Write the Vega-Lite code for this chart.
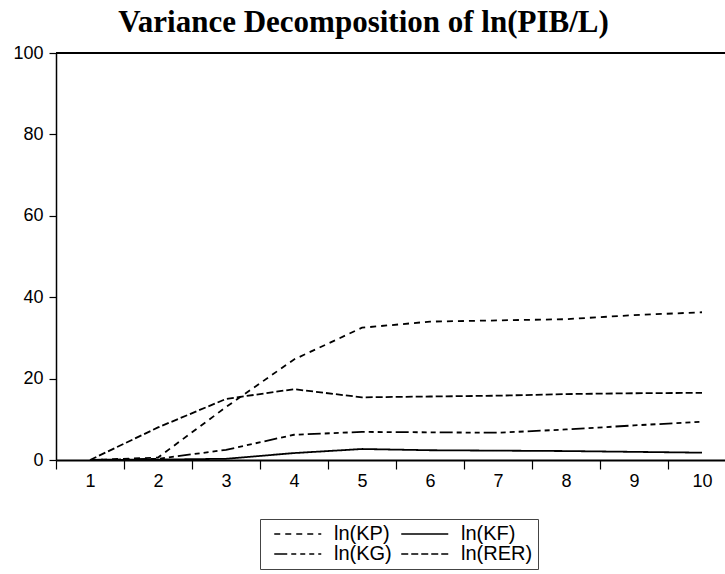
{
  "$schema": "https://vega.github.io/schema/vega-lite/v6.json",
  "width": 669,
  "height": 407,
  "autosize": {"type": "none"},
  "padding": {"left": 56, "top": 53, "right": 0, "bottom": 114},
  "title": {
    "text": "Variance Decomposition of ln(PIB/L)",
    "font": "Liberation Serif",
    "fontSize": 31,
    "fontWeight": "bold",
    "color": "black",
    "anchor": "middle",
    "dx": -27,
    "offset": 5
  },
  "config": {"view": {"stroke": null}},
  "data": {
    "values": [
      {"period": 1, "series": "ln(KP)", "value": 0},
      {"period": 2, "series": "ln(KP)", "value": 0.6},
      {"period": 3, "series": "ln(KP)", "value": 13},
      {"period": 4, "series": "ln(KP)", "value": 24.7},
      {"period": 5, "series": "ln(KP)", "value": 32.5},
      {"period": 6, "series": "ln(KP)", "value": 34},
      {"period": 7, "series": "ln(KP)", "value": 34.3},
      {"period": 8, "series": "ln(KP)", "value": 34.6},
      {"period": 9, "series": "ln(KP)", "value": 35.6},
      {"period": 10, "series": "ln(KP)", "value": 36.3},
      {"period": 1, "series": "ln(KF)", "value": 0},
      {"period": 2, "series": "ln(KF)", "value": 0.1},
      {"period": 3, "series": "ln(KF)", "value": 0.3},
      {"period": 4, "series": "ln(KF)", "value": 1.7},
      {"period": 5, "series": "ln(KF)", "value": 2.7},
      {"period": 6, "series": "ln(KF)", "value": 2.4},
      {"period": 7, "series": "ln(KF)", "value": 2.3},
      {"period": 8, "series": "ln(KF)", "value": 2.2},
      {"period": 9, "series": "ln(KF)", "value": 2.0},
      {"period": 10, "series": "ln(KF)", "value": 1.8},
      {"period": 1, "series": "ln(KG)", "value": 0},
      {"period": 2, "series": "ln(KG)", "value": 0.3},
      {"period": 3, "series": "ln(KG)", "value": 2.5},
      {"period": 4, "series": "ln(KG)", "value": 6.2},
      {"period": 5, "series": "ln(KG)", "value": 6.9},
      {"period": 6, "series": "ln(KG)", "value": 6.8},
      {"period": 7, "series": "ln(KG)", "value": 6.7},
      {"period": 8, "series": "ln(KG)", "value": 7.5},
      {"period": 9, "series": "ln(KG)", "value": 8.5},
      {"period": 10, "series": "ln(KG)", "value": 9.4},
      {"period": 1, "series": "ln(RER)", "value": 0},
      {"period": 2, "series": "ln(RER)", "value": 8},
      {"period": 3, "series": "ln(RER)", "value": 15},
      {"period": 4, "series": "ln(RER)", "value": 17.4},
      {"period": 5, "series": "ln(RER)", "value": 15.4},
      {"period": 6, "series": "ln(RER)", "value": 15.6},
      {"period": 7, "series": "ln(RER)", "value": 15.8},
      {"period": 8, "series": "ln(RER)", "value": 16.2},
      {"period": 9, "series": "ln(RER)", "value": 16.4},
      {"period": 10, "series": "ln(RER)", "value": 16.5}
    ]
  },
  "layer": [
    {
      "mark": {"type": "line", "color": "black", "strokeWidth": 1.8},
      "encoding": {
        "x": {
          "field": "period",
          "type": "ordinal",
          "scale": {"type": "band", "paddingInner": 0, "paddingOuter": 0, "range": [0, 680]},
          "axis": {
            "title": null,
            "labelAngle": 0,
            "tickBand": "extent",
            "tickSize": 9,
            "labelPadding": 3,
            "labelFont": "Liberation Sans",
            "labelFontSize": 18,
            "labelColor": "black",
            "tickColor": "black",
            "tickWidth": 1.2,
            "domainColor": "black",
            "domainWidth": 2
          }
        },
        "y": {
          "field": "value",
          "type": "quantitative",
          "scale": {"domain": [0, 100]},
          "axis": {
            "title": null,
            "values": [0, 20, 40, 60, 80, 100],
            "grid": false,
            "tickSize": 7,
            "labelPadding": 6,
            "labelFont": "Liberation Sans",
            "labelFontSize": 18,
            "labelColor": "black",
            "tickColor": "black",
            "tickWidth": 1.2,
            "domainColor": "black",
            "domainWidth": 1.5
          }
        },
        "strokeDash": {
          "field": "series",
          "type": "nominal",
          "scale": {
            "domain": ["ln(KP)", "ln(KF)", "ln(KG)", "ln(RER)"],
            "range": [[6, 5], [1, 0], [13, 4, 5, 4, 5, 4, 5, 4], [7, 3]]
          },
          "legend": {
            "title": null,
            "orient": "none",
            "legendX": 204,
            "legendY": 466,
            "direction": "horizontal",
            "columns": 2,
            "columnPadding": -5,
            "rowPadding": -3,
            "padding": 5,
            "strokeColor": "#444",
            "symbolType": "M-0.125,0H7.71",
            "symbolSize": 144,
            "symbolStrokeWidth": 1.5,
            "symbolStrokeColor": "black",
            "labelOffset": 49,
            "labelFont": "Liberation Sans",
            "labelFontSize": 20,
            "labelColor": "black"
          }
        }
      }
    },
    {
      "mark": {"type": "rule", "color": "black", "strokeWidth": 2},
      "encoding": {"y": {"datum": 100}}
    }
  ]
}
